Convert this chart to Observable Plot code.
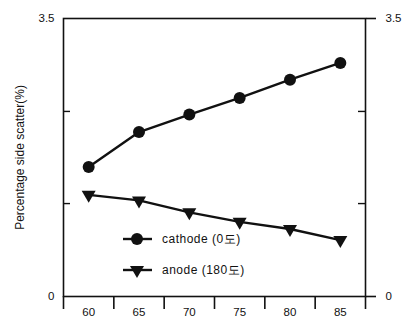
<!DOCTYPE html>
<html>
<head>
<meta charset="utf-8">
<script src="https://cdn.jsdelivr.net/npm/d3@7"></script>
<script src="https://cdn.jsdelivr.net/npm/@observablehq/plot@0.6"></script>
<style>
  html, body { margin: 0; padding: 0; background: #fff; }
  #chart { width: 406px; height: 320px; }
</style>
</head>
<body>
<div id="chart"></div>
<script>
// Data
const temps = [60, 65, 70, 75, 80, 85];
const cathode = [1.63, 2.07, 2.29, 2.50, 2.73, 2.94];
const anode = [1.28, 1.21, 1.06, 0.94, 0.85, 0.71];
const xLabels = [60, 65, 70, 75, 80, 85];
const xBoundaries = [57.5, 62.5, 67.5, 72.5, 77.5, 82.5, 87.5];
const yLabels = [0, 3.5];
const yMinor = [1.17, 2.33];
const seriesNames = ["cathode (0도)", "anode (180도)"];
const yTitle = "Percentage side scatter(%)";

const cathodeData = temps.map((t, i) => ({t, v: cathode[i]}));
const anodeData = temps.map((t, i) => ({t, v: anode[i]}));

const ink = "#111";

// downward-pointing triangle, centred on its centroid
const triDown = {
  draw(context, size) {
    const r = Math.sqrt(size / Math.PI);
    const k = r / 6;
    context.moveTo(-7 * k, -4 * k);
    context.lineTo(7 * k, -4 * k);
    context.lineTo(0, 8 * k);
    context.closePath();
  }
};

const W = 406, H = 320;
const mL = 63, mR = 41, mT = 18, mB = 24;
const fw = W - mL - mR;

function legend(index, scales, values, dims) {
  const g = d3.create("svg:g");
  const rows = [
    {name: seriesNames[0], sym: "circle", y: 239},
    {name: seriesNames[1], sym: "tri", y: 270}
  ];
  for (const r of rows) {
    g.append("line").attr("x1", 123).attr("x2", 152).attr("y1", r.y).attr("y2", r.y)
      .attr("stroke", ink).attr("stroke-width", 2.4);
    if (r.sym === "circle") {
      g.append("circle").attr("cx", 137).attr("cy", r.y).attr("r", 6).attr("fill", ink);
    } else {
      g.append("path").attr("transform", `translate(137,${r.y})`)
        .attr("d", "M-7,-4L7,-4L0,8Z").attr("fill", ink);
    }
    g.append("text").attr("x", 162).attr("y", r.y).attr("dy", "0.35em")
      .attr("text-anchor", "start").attr("letter-spacing", "0.5")
      .attr("fill", ink).attr("font-size", 12).text(r.name);
  }
  return g.node();
}

const chart = Plot.plot({
  width: W, height: H,
  marginLeft: mL, marginRight: mR, marginTop: mT, marginBottom: mB,
  x: {type: "linear", domain: [57.5, 87.5]},
  y: {domain: [0, 3.5]},
  style: {fontFamily: "'Liberation Sans', Arial, sans-serif", fontSize: "11.5px", color: ink, background: "#fff"},
  marks: [
    Plot.frame({stroke: ink, strokeWidth: 1.6}),
    Plot.axisX(xBoundaries, {tickSize: 13, tickFormat: () => "", label: null, strokeWidth: 1.6}),
    Plot.axisX(xLabels, {tickSize: 0, tickPadding: 11, label: null}),
    Plot.tickY(yMinor, {y: d => d, insetRight: fw - 7, stroke: ink, strokeWidth: 1.4}),
    Plot.tickY(yMinor, {y: d => d, insetLeft: fw - 7, stroke: ink, strokeWidth: 1.4}),
    Plot.axisY(yLabels, {anchor: "left", tickSize: 0, tickPadding: 9, label: null, tickFormat: d => d === 0 ? "0" : "3.5"}),
    Plot.axisY(yLabels, {anchor: "right", tickSize: 10, tickPadding: 10, label: null, strokeWidth: 1.6, tickFormat: d => d === 0 ? "0" : "3.5"}),
    Plot.line(cathodeData, {x: "t", y: "v", stroke: ink, strokeWidth: 2.4}),
    Plot.dot(cathodeData, {x: "t", y: "v", r: 6, fill: ink, stroke: null}),
    Plot.line(anodeData, {x: "t", y: "v", stroke: ink, strokeWidth: 2.4}),
    Plot.dot(anodeData, {x: "t", y: "v", r: 6, symbol: triDown, fill: ink, stroke: null}),
    Plot.text([yTitle], {frameAnchor: "left", dx: -43, rotate: -90, textAnchor: "middle", text: d => d, fill: ink, fontSize: 12}),
    legend
  ]
});
document.getElementById("chart").appendChild(chart);
</script>
</body>
</html>
